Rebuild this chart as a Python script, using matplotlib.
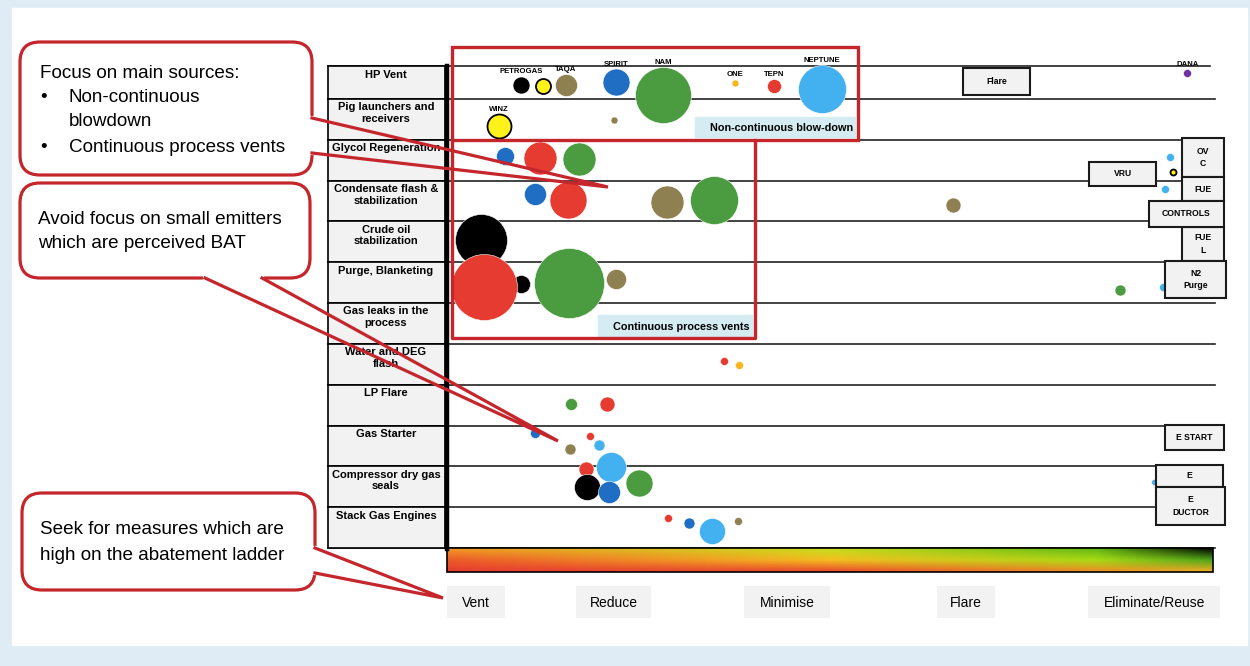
import numpy as np
import matplotlib
matplotlib.use("Agg")
import matplotlib.pyplot as plt
from matplotlib.patches import Rectangle, FancyBboxPatch
from matplotlib.colors import to_rgb

plt.rcParams['font.family'] = ['Liberation Sans', 'DejaVu Sans']

# emission sources (rows of the ladder table)
rows = ["HP Vent", "Pig launchers and\nreceivers", "Glycol Regeneration",
        "Condensate flash &\nstabilization", "Crude oil\nstabilization",
        "Purge, Blanketing", "Gas leaks in the\nprocess", "Water and DEG\nflash",
        "LP Flare", "Gas Starter", "Compressor dry gas\nseals", "Stack Gas Engines"]

# abatement ladder steps and their place on the 0-100 scale
ladder = ["Vent", "Reduce", "Minimise", "Flare", "Eliminate/Reuse"]
ladder_pos = [3.8, 21.7, 44.3, 67.6, 92.1]

# bubbles: position on abatement scale, row position, size (px), colour code
bub_x = [9.6, 12.5, 15.5, 22.0, 28.1, 37.5, 42.6, 48.8, 96.4,
         6.8, 21.7,
         7.6, 12.1, 17.2, 94.1, 94.5,
         11.5, 15.8, 28.6, 34.8, 93.5, 65.9,
         4.4,
         9.6, 4.8, 15.9, 22.0, 87.6, 93.2,
         36.1, 38.0,
         16.1, 20.8,
         11.5, 18.6, 19.8, 16.0,
         18.1, 21.4, 18.2, 21.1, 25.0, 92.1,
         28.8, 31.5, 34.5, 37.9]
bub_y = [0.66, 0.69, 0.66, 0.59, 0.91, 0.61, 0.69, 0.76, 0.37,
         1.67, 1.52,
         2.40, 2.45, 2.47, 2.42, 2.79,
         3.33, 3.48, 3.53, 3.48, 3.21, 3.60,
         4.46,
         5.54, 5.61, 5.51, 5.41, 5.69, 5.61,
         7.42, 7.52,
         8.47, 8.47,
         9.18, 9.26, 9.48, 9.58,
         10.07, 10.02, 10.51, 10.63, 10.41, 10.38,
         11.27, 11.39, 11.58, 11.34]
bub_d = [17, 15, 22, 27, 56, 7, 14, 48, 8,
         24, 7,
         18, 33, 33, 8, 6,
         22, 37, 33, 48, 8, 15,
         52,
         18, 66, 70, 20, 11, 8,
         8, 8,
         12, 15,
         10, 8, 11, 11,
         15, 30, 26, 22, 27, 6,
         8, 11, 26, 8]
bub_c = "KYOBGARLP" + "YO" + "BRGLY" + "BROGLO" + "K" + "KRGOGL" + "RA" + "GR" + "BRLO" + "RLKBGL" + "RBLO"
bub_name = ["PETROGAS", "", "TAQA", "SPIRIT", "NAM", "ONE", "TEPN", "NEPTUNE", "DANA",
            "WINZ"] + [""] * 37

palette = {"K": "#000000", "Y": "#fff21a", "O": "#8e8050", "B": "#1f6ec4",
           "G": "#4b9b40", "R": "#e63b30", "L": "#43b0f0", "A": "#f8b61a",
           "P": "#7030a0"}

W, H = 1250, 666
fig = plt.figure(figsize=(12.5, 6.66), dpi=100)

# background / table axes in pixel coordinates
pax = fig.add_axes([0, 0, 1, 1])
pax.set_xlim(0, W)
pax.set_ylim(H, 0)
pax.axis('off')
pax.add_patch(Rectangle((0, 0), W, H, color="#dfecf5", zorder=0))
pax.add_patch(Rectangle((12, 8), 1235, 637, color="white", zorder=0))

top, rh = 58, 490 / 12
def ypx(r):
    return top + r * rh
def xpx(s):
    return 447 + s * 7.68

edges = [0.2] + list(range(1, 13))
for i, lab in enumerate(rows):
    y0, y1 = ypx(edges[i]), ypx(edges[i + 1])
    cell = Rectangle((328, y0), 117, y1 - y0, facecolor="#f2f2f2",
                     edgecolor="black", lw=1.2, zorder=2)
    pax.add_patch(cell)
    t = pax.text(386, y0 + 3.5, lab, ha='center', va='top', fontsize=8,
                 fontweight='bold', linespacing=1.2, zorder=3)
    t.set_clip_path(cell)
for i, e in enumerate(edges):
    pax.plot([328, 1210 if i == 0 else 1215], [ypx(e), ypx(e)], color="#222222",
             lw=1.2, zorder=1)
pax.plot([447, 447], [ypx(0.2), 549], color="black", lw=3.2, zorder=4)

# gradient ladder bar: red bottom-left, green/black top-right
gxs = [0, 0.5, 0.85, 1.0]
grid = [["#f29a25", "#c6df1c", "#5fb814", "#000000"],   # top
        ["#ec5a2a", "#f4bd1f", "#a8da14", "#4ca41a"],   # middle
        ["#e53b2f", "#e8472d", "#f08a26", "#f3b022"]]   # bottom
nx, ny = 400, 30
xs = np.linspace(0, 1, nx)
row_img = []
for r in grid:
    cols = np.array([to_rgb(c) for c in r])
    row_img.append(np.stack([np.interp(xs, gxs, cols[:, k]) for k in range(3)], axis=-1))
row_img = np.array(row_img)
ys = np.linspace(0, 1, ny)
img = np.empty((ny, nx, 3))
for k in range(3):
    for j in range(nx):
        img[:, j, k] = np.interp(ys, [0, 0.5, 1], row_img[:, j, k])
pax.imshow(img, extent=[447, 1213, 572, 548], aspect='auto', origin='upper',
           zorder=2, interpolation='bilinear')
pax.add_patch(Rectangle((447, 548), 766, 24, fill=False, edgecolor="black", lw=1.2, zorder=3))

# ladder labels
ladder_w = [58, 75, 86, 58, 132]
for lab, s, w in zip(ladder, ladder_pos, ladder_w):
    cx = xpx(s)
    pax.add_patch(Rectangle((cx - w / 2, 586), w, 32, facecolor="#f2f2f2",
                            edgecolor="none", zorder=2))
    pax.text(cx, 603, lab, ha='center', va='center', fontsize=10, zorder=3)

# bubble axes
bax = fig.add_axes([447 / W, (H - ypx(12)) / H, 768 / W, (ypx(12) - top) / H])
bax.set_xlim(0, 100)
bax.set_ylim(12, 0)
bax.axis('off')
bax.patch.set_visible(False)
for x, y, d, c, name in zip(bub_x, bub_y, bub_d, bub_c, bub_name):
    ec = "black" if c == "Y" else "white"
    lw = 1.3 if c == "Y" else 0.4
    bax.scatter([x], [y], s=(d * 0.72) ** 2, color=palette[c], edgecolors=ec,
                linewidths=lw, zorder=3, clip_on=False)
    if name:
        bax.annotate(name, (x, y), xytext=(0, (d / 2 + 4.5) * 0.72),
                     textcoords='offset points', ha='center', va='center',
                     fontsize=5.6, fontweight='bold', zorder=4)

# overlay: red group boxes, right-hand measure boxes, callouts
tax = fig.add_axes([0, 0, 1, 1])
tax.set_xlim(0, W)
tax.set_ylim(H, 0)
tax.axis('off')
tax.patch.set_visible(False)
red = "#c4262c"

for (x0, y0, x1, y1, lab) in [(695, 117, 855, 137, "Non-continuous blow-down"),
                              (598, 315, 752, 336, "Continuous process vents")]:
    tax.add_patch(Rectangle((x0, y0), x1 - x0, y1 - y0, color="#d5ecf3", zorder=1))
    tax.text(x1 - 2, (y0 + y1) / 2 + 1, lab, ha='right', va='center', fontsize=7.8,
             fontweight='bold', zorder=2)
tax.add_patch(Rectangle((452, 47), 406, 93, fill=False, edgecolor=red, lw=2.4, zorder=3))
tax.plot([452, 452, 755, 755], [140, 338, 338, 140], color=red, lw=2.4, zorder=3)

measure_boxes = [(963, 68, 1030, 95, "Flare"), (1089, 162, 1156, 186, "VRU"),
                 (1182, 138, 1224, 177, "OV\nC"), (1182, 177, 1224, 201, "FUE"),
                 (1182, 227, 1224, 261, "FUE\nL"), (1149, 201, 1224, 227, "CONTROLS"),
                 (1165, 261, 1226, 298, "N2\nPurge"), (1165, 425, 1224, 450, "E START"),
                 (1156, 465, 1223, 487, "E"), (1156, 487, 1225, 525, "E\nDUCTOR")]
for x0, y0, x1, y1, lab in measure_boxes:
    tax.add_patch(Rectangle((x0, y0), x1 - x0, y1 - y0, facecolor="#f2f2f2",
                            edgecolor="#1a1a1a", lw=1.5, zorder=4))
    tax.text((x0 + x1) / 2, (y0 + y1) / 2, lab, ha='center', va='center',
             fontsize=6.2, fontweight='bold', linespacing=1.5, zorder=5)

def callout(x0, y0, x1, y1, p1, p2, tip):
    tax.add_patch(FancyBboxPatch((x0, y0), x1 - x0, y1 - y0,
                                 boxstyle="round,pad=0,rounding_size=20",
                                 facecolor="white", edgecolor=red, lw=2.3, zorder=6))
    tax.plot([p1[0], p2[0]], [p1[1], p2[1]], color="white", lw=3, zorder=7)
    tax.plot([p1[0], tip[0], p2[0]], [p1[1], tip[1], p2[1]], color=red, lw=2.3,
             zorder=7, solid_joinstyle='miter')

callout(20, 42, 312, 175, (312, 118), (312, 153), (608, 187))
callout(20, 183, 310, 278, (205, 278), (262, 278), (558, 441))
callout(22, 493, 315, 590, (315, 548), (315, 573), (443, 598))

fs = 13.6
tax.text(40, 73, "Focus on main sources:", fontsize=fs, va='center', zorder=8)
tax.text(40, 97, "•", fontsize=fs, va='center', zorder=8)
tax.text(69, 97, "Non-continuous", fontsize=fs, va='center', zorder=8)
tax.text(69, 121, "blowdown", fontsize=fs, va='center', zorder=8)
tax.text(40, 148, "•", fontsize=fs, va='center', zorder=8)
tax.text(69, 148, "Continuous process vents", fontsize=fs, va='center', zorder=8)
tax.text(38, 219, "Avoid focus on small emitters", fontsize=fs, va='center', zorder=8)
tax.text(38, 243, "which are perceived BAT", fontsize=fs, va='center', zorder=8)
tax.text(40, 530, "Seek for measures which are", fontsize=fs, va='center', zorder=8)
tax.text(40, 555, "high on the abatement ladder", fontsize=fs, va='center', zorder=8)

fig.savefig("out.png", dpi=100)
